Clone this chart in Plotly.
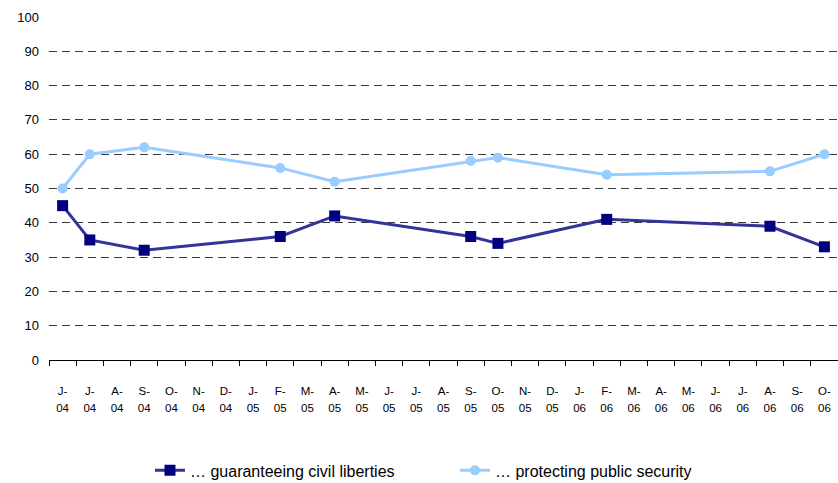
import plotly.graph_objects as go

# Survey months, June 2004 to October 2006
months = ["J", "J", "A", "S", "O", "N", "D",
          "J", "F", "M", "A", "M", "J", "J", "A", "S", "O", "N", "D",
          "J", "F", "M", "A", "M", "J", "J", "A", "S", "O"]
years = ["04"] * 7 + ["05"] * 12 + ["06"] * 10

# Waves in which the question was asked (index into months)
wave_idx = [0, 1, 3, 8, 10, 15, 16, 20, 26, 28]
civil_liberties = [45, 35, 32, 36, 42, 36, 34, 41, 39, 33]
public_security = [50, 60, 62, 56, 52, 58, 59, 54, 55, 60]

tick_pos = list(range(len(months)))
month_text = [f"{m}-" for m in months]

FONT = "Liberation Sans, Arial, sans-serif"

fig = go.Figure()
fig.add_trace(go.Scatter(
    x=wave_idx, y=civil_liberties, mode="lines+markers",
    name="… guaranteeing civil liberties",
    line=dict(color="#333399", width=3),
    marker=dict(symbol="square", size=11, color="#000080"),
))
fig.add_trace(go.Scatter(
    x=wave_idx, y=public_security, mode="lines+markers",
    name="… protecting public security",
    line=dict(color="#99CCFF", width=3),
    marker=dict(symbol="circle", size=10, color="#99CCFF"),
))
# empty carrier trace so the year row axis is drawn
fig.add_trace(go.Scatter(
    x=tick_pos, y=[None] * len(tick_pos), xaxis="x2", mode="lines",
    showlegend=False, hoverinfo="skip",
))

fig.update_layout(
    width=838, height=483,
    margin=dict(l=49, r=0, t=17, b=123, autoexpand=False),
    paper_bgcolor="white", plot_bgcolor="white",
    font=dict(family=FONT, size=11, color="#000000"),
    showlegend=True,
    legend=dict(orientation="h", x=0.128, xanchor="left", y=-0.322, yanchor="middle",
                font=dict(size=16, family=FONT),
                entrywidth=260, entrywidthmode="pixels",
                traceorder="normal"),
    xaxis=dict(
        range=[-0.5, len(months) - 0.5],
        tickmode="array", tickvals=tick_pos, ticktext=month_text,
        ticks="", showgrid=False, zeroline=False,
        showline=True, linecolor="#000000", linewidth=1,
        tickfont=dict(size=11.5), ticklabelstandoff=20,
        minor=dict(tickmode="array",
                   tickvals=[i - 0.5 for i in range(len(months) + 1)],
                   ticks="outside", ticklen=5, tickcolor="#000000",
                   showgrid=False),
    ),
    xaxis2=dict(
        overlaying="x", matches="x", side="bottom", anchor="y",
        tickmode="array", tickvals=tick_pos, ticktext=years,
        ticks="", showgrid=False, zeroline=False, showline=False,
        tickfont=dict(size=11.5), ticklabelstandoff=39,
    ),
    yaxis=dict(
        range=[0, 100], tickmode="linear", tick0=0, dtick=10,
        showgrid=True, gridcolor="#3a3a3a", griddash="8px,5px", gridwidth=1,
        zeroline=False, showline=False, ticks="",
        tickfont=dict(size=13), ticklabelstandoff=9,
    ),
)

fig.write_html("out.html")
